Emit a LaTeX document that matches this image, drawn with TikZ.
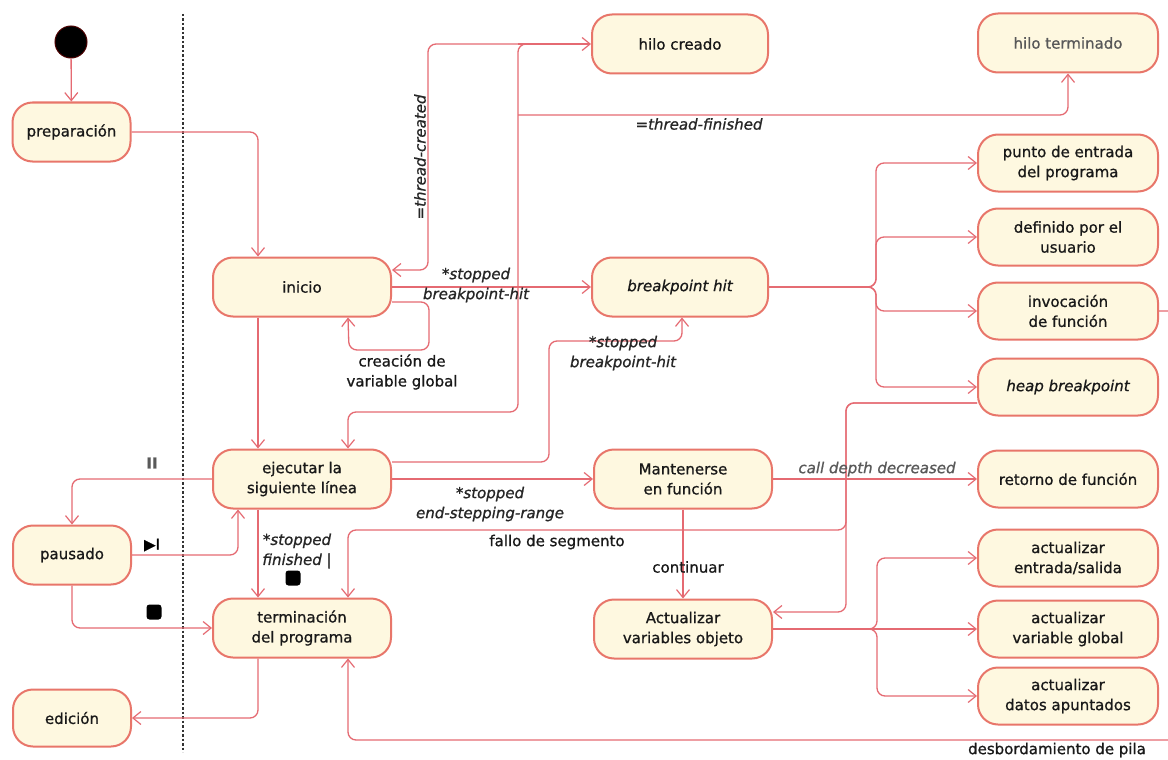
\documentclass[tikz,border=0pt]{standalone}
\usepackage{fontspec}
\setmainfont{DejaVu Sans}[FakeBold=0.9]
\usetikzlibrary{arrows.meta}

\definecolor{edgecol}{RGB}{229,106,114}
\definecolor{statedraw}{RGB}{232,118,106}
\definecolor{statefill}{RGB}{254,248,224}

\begin{document}
\begin{tikzpicture}[x=1pt,y=-1pt,
  every node/.style={font=\fontsize{15}{20}\selectfont},
  state/.style={draw=statedraw, fill=statefill, line width=2pt,
    rounded corners=20pt, minimum width=#1, minimum height=59pt,
    align=center, inner sep=2pt, text=black!90},
  state/.default=178pt,
  rstate/.style={state=180pt, minimum height=57pt},
  tr/.style={draw=edgecol, line width=1.3pt, rounded corners=8pt,
    -{Straight Barb[length=8pt,width=13pt,line width=1.2pt]}},
  lbl/.style={font=\fontsize{15}{20}\selectfont\itshape, align=center,
    text=black!85, inner sep=1pt},
  plain/.style={font=\fontsize{15}{20}\selectfont, align=center,
    text=black!90, inner sep=1pt},
  stopsq/.style={fill=black, rounded corners=3pt, minimum size=15pt, inner sep=0pt},
  separator/.style={draw=black!80, line width=1.5pt, dash pattern=on 2.5pt off 2pt},
]
\path[use as bounding box] (0,0) rectangle (1168,760);
\fill[white] (0,0) rectangle (1168,760);
\clip (0,0) rectangle (1168,760);

% swimlane separator
\draw[separator] (183,14) -- (183,752);

% states
\node[circle, fill=black, draw=black!70!red, line width=1pt, minimum size=32pt, inner sep=0pt] (init) at (71,42) {};
\node[state=118pt] (prep) at (71.5,132) {preparación};
\node[state] (inicio) at (302,287) {inicio};
\node[state=176pt] (hcre) at (680,44) {hilo creado};
\node[state=180pt, text=black!65] (hter) at (1068,43) {hilo terminado};
\node[state=176pt] (bph) at (680,287) {\itshape breakpoint hit};
\node[rstate] (pep) at (1068,163) {punto de entrada\\del programa};
\node[rstate] (def) at (1068,237) {definido por el\\usuario};
\node[rstate] (inv) at (1068,311) {invocación\\de función};
\node[rstate] (heap) at (1068,387) {\itshape heap breakpoint};
\node[rstate] (ret) at (1068,479) {retorno de función};
\node[rstate] (aes) at (1068,558) {actualizar\\entrada/salida};
\node[rstate] (avg) at (1068,629) {actualizar\\variable global};
\node[rstate] (adp) at (1068,696) {actualizar\\datos apuntados};
\node[state] (ejec) at (302,479) {ejecutar la\\siguiente línea};
\node[state] (mant) at (683,479) {Mantenerse\\en función};
\node[state=118pt] (paus) at (72,555) {pausado};
\node[state] (term) at (302,628) {terminación\\del programa};
\node[state] (actv) at (683,629) {Actualizar\\variables objeto};
\node[state=118pt, minimum height=57pt] (edic) at (72,718) {edición};

% branch points
\coordinate (hub) at (518,44);
\coordinate (tfork) at (518,115);
\coordinate (bfork) at (876,287);
\coordinate (afork) at (877,629);

% transitions
\draw[tr] (init) -- (prep);
\draw[tr] (prep.east) -| ([xshift=-44pt]inicio.north);
\draw[tr] ([xshift=-44pt]inicio.south) -- ([xshift=-44pt]ejec.north);
\draw[tr] ([yshift=-15pt]inicio.east) -- ++(37,0) -- ++(0,48) -- ++(-80,0) -- ([xshift=46pt]inicio.south);

\draw[tr] (hub) -- (hcre.west);
\draw[tr] ([xshift=30pt]hub) -- (hub) -- ++(-90,0) |- ([yshift=17pt]inicio.east);
\draw[tr] ([xshift=30pt]hub) -- (hub) -- ++(0,368) -| ([xshift=46pt]ejec.north);
\draw[tr] (tfork) -| (hter.south);

\draw[tr] (inicio.east) -- (bph.west);
\draw[tr] ([yshift=17pt]ejec.east) -- ++(157,0) -- ++(0,-121) -| ([xshift=2pt]bph.south);
\draw[tr] (ejec.east) -- (mant.west);

\draw[tr] (bph.east) -- (bfork) |- (pep.west);
\draw[tr] (bph.east) -- (bfork) |- (def.west);
\draw[tr] (bph.east) -- (bfork) |- (inv.west);
\draw[tr] (bph.east) -- (bfork) |- (heap.west);

\draw[tr] ([yshift=-16pt]heap.west) -- ++(-131,0) |- ([yshift=17pt]actv.east);
\draw[tr] ([yshift=-16pt]heap.west) -- ++(-131,0) -- ++(0,127) -| ([xshift=46pt]term.north);

\draw[tr] (mant.east) -- (ret.west);
\draw[tr] (mant.south) -- (actv.north);

\draw[tr] (actv.east) -- (afork) |- (aes.west);
\draw[tr] (actv.east) -- (avg.west);
\draw[tr] (actv.east) -- (afork) |- (adp.west);

\draw[tr] ([xshift=-44pt]ejec.south) -- ([xshift=-44pt]term.north);
\draw[tr] (ejec.west) -| (paus.north);
\draw[tr] (paus.east) -| ([xshift=-64pt]ejec.south);
\draw[tr] (paus.south) |- (term.west);
\draw[tr] ([xshift=-44pt]term.south) |- (edic.east);
\draw[tr] (inv.east) -- ++(20,0) -- ++(0,429) -| ([xshift=46pt]term.south);

% transition labels
\node[lbl, rotate=90] (lthc) at (420,157) {=thread-created};
\node[lbl] (lthf) at (699,124) {=thread-finished};
\node[lbl] (lsb1) at (476,285) {*stopped\\breakpoint-hit};
\node[plain] (lcvg) at (402,372) {creación de\\variable global};
\node[lbl] (lsb2) at (623,353) {*stopped\\breakpoint-hit};
\node[lbl] (lser) at (490,504) {*stopped\\end-stepping-range};
\node[plain] (lfds) at (557,542) {fallo de segmento};
\node[plain] (lcon) at (688,567) {continuar};
\node[lbl, text=black!65] (lcdd) at (877,469) {call depth decreased};
\node[lbl] (lsfi) at (297,551) {*stopped\\finished |};
\node[stopsq] (sq1) at (293,578) {};
\node[stopsq] (sq2) at (154,612) {};
\node[plain, font=\fontsize{15}{20}\selectfont\bfseries, text=black!65] (lpau) at (152,463) {II};
\node[plain, text=black] (lstp) at (152,545) {▶I};
\node[plain] (ldpi) at (1057,750) {desbordamiento de pila};
\end{tikzpicture}
\end{document}
